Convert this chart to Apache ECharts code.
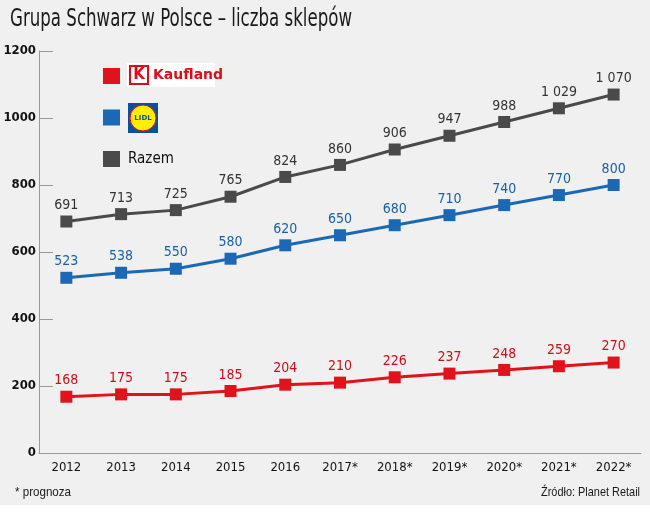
<!DOCTYPE html>
<html>
<head>
<meta charset="utf-8">
<script src="https://cdn.jsdelivr.net/npm/echarts@6/dist/echarts.min.js"></script>
<style>
  html, body { margin: 0; padding: 0; background: #fff; }
  #chart { width: 650px; height: 516px; }
</style>
</head>
<body>
<div id="chart"></div>
<script type="application/javascript">
const categories = ['2012', '2013', '2014', '2015', '2016', '2017*', '2018*', '2019*', '2020*', '2021*', '2022*'];
const kaufland = [168, 175, 175, 185, 204, 210, 226, 237, 248, 259, 270];
const lidl = [523, 538, 550, 580, 620, 650, 680, 710, 740, 770, 800];
const razem = [691, 713, 725, 765, 824, 860, 906, 947, 988, 1029, 1070];
const seriesNames = ['Kaufland', 'Lidl', 'Razem'];
const yMin = 0, yMax = 1200, yStep = 200;

const FONT = '"DejaVu Sans Condensed", "Liberation Sans Narrow", sans-serif';
const TEXT_FONT = '"Liberation Sans", Arial, sans-serif';

function fmt(v) {
  // separator tysięcy spacją, jak w oryginale: 1 029
  return String(v).replace(/\B(?=(\d{3})+(?!\d))/g, ' ');
}

// szerokosc tekstu, zeby scisnac go poziomo jak w oryginale (krój wąski)
const measureCtx = document.createElement('canvas').getContext('2d');
function squeeze(text, font, targetWidth) {
  measureCtx.font = font;
  return targetWidth / measureCtx.measureText(text).width;
}

function narrowText(text, x, y, font, width, align) {
  const sx = squeeze(text, font, width);
  return {
    type: 'text', x, y, scaleX: sx, silent: true,
    style: { text, font, fill: '#1a1a1a', align: align || 'left', verticalAlign: 'middle' }
  };
}

function lineSerie(name, data, color, labelColor) {
  return {
    name,
    type: 'line',
    data,
    symbol: 'rect',
    symbolSize: 12,
    lineStyle: { width: 3, color },
    itemStyle: { color },
    label: {
      show: true,
      position: 'top',
      distance: 3,
      color: labelColor,
      fontFamily: FONT,
      fontSize: 14,
      formatter: p => fmt(p.value)
    },
    emphasis: { disabled: true },
    z: 3
  };
}

const chart = echarts.init(document.getElementById('chart'));

const titleText = 'Grupa Schwarz w Polsce – liczba sklepów';

const option = {
  animation: false,
  backgroundColor: '#fff',
  textStyle: { fontFamily: FONT },
  legend: {
    orient: 'vertical',
    left: 103, top: 68,
    padding: 0,
    icon: 'rect',
    itemWidth: 17, itemHeight: 16,
    itemGap: 25.5,
    selectedMode: false,
    data: seriesNames,
    formatter: name => (name === 'Razem' ? 'Razem' : ''),
    textStyle: { fontFamily: FONT, fontSize: 15, color: '#111', lineHeight: 16, padding: [0, 0, 0, 3] }
  },
  grid: { left: 39, right: 9, top: 51, bottom: 63, outerBoundsMode: 'none', containLabel: false },
  xAxis: {
    type: 'category',
    data: categories,
    boundaryGap: true,
    axisLine: { lineStyle: { color: '#999', width: 1 } },
    axisTick: { inside: true, length: 7, lineStyle: { color: '#999' } },
    axisLabel: { color: '#111', fontFamily: FONT, fontSize: 13, margin: 8 }
  },
  yAxis: {
    type: 'value',
    min: yMin, max: yMax, interval: yStep,
    axisLine: { show: true, lineStyle: { color: '#999', width: 1 } },
    axisTick: { show: true, inside: true, length: 14, lineStyle: { color: '#999' } },
    splitLine: { show: false },
    axisLabel: { color: '#111', fontFamily: FONT, fontSize: 13, fontWeight: 'bold', margin: 3, formatter: v => String(v) }
  },
  graphic: [
    // szare tło
    { type: 'rect', z: -10, silent: true, shape: { x: 0, y: 0, width: 650, height: 505 }, style: { fill: '#f0f0f0' } },
    // tytuł i stopka
    narrowText(titleText, 10, 20, '24px "DejaVu Sans Condensed", sans-serif', 342),
    narrowText('* prognoza', 15, 492, '13px ' + TEXT_FONT, 56),
    narrowText('Źródło: Planet Retail', 640, 492, '13px ' + TEXT_FONT, 99, 'right'),
    // logo Kaufland
    {
      type: 'group', left: 127, top: 63, silent: true,
      children: [
        { type: 'rect', shape: { x: 0, y: 0, width: 88, height: 24 }, style: { fill: '#fff' } },
        { type: 'rect', shape: { x: 3, y: 3, width: 18, height: 18 }, style: { fill: '#fff', stroke: '#e10a17', lineWidth: 2 } },
        { type: 'text', x: 12, y: 12, style: { text: 'K', fill: '#e10a17', font: 'bold 15px "DejaVu Sans"', align: 'center', verticalAlign: 'middle' } },
        { type: 'text', x: 26, y: 12.5, style: { text: 'Kaufland', fill: '#e10a17', font: 'bold 14px "DejaVu Sans"', verticalAlign: 'middle' } }
      ]
    },
    // logo Lidl
    {
      type: 'group', left: 128, top: 103, silent: true,
      children: [
        { type: 'rect', shape: { x: 0, y: 0, width: 30, height: 30 }, style: { fill: '#0a50a1' } },
        { type: 'circle', shape: { cx: 15, cy: 15, r: 13 }, style: { fill: '#fff000', stroke: '#e60a14', lineWidth: 1 } },
        { type: 'text', x: 15, y: 15.5, style: { text: 'LIDL', fill: '#0a50a1', font: 'bold 7px "DejaVu Sans"', align: 'center', verticalAlign: 'middle' } }
      ]
    }
  ],
  series: [
    lineSerie('Kaufland', kaufland, '#e0121b', '#c8101a'),
    lineSerie('Lidl', lidl, '#1b69b6', '#1a5fa8'),
    lineSerie('Razem', razem, '#4a4a4a', '#333')
  ]
};

chart.setOption(option);
</script>
</body>
</html>
